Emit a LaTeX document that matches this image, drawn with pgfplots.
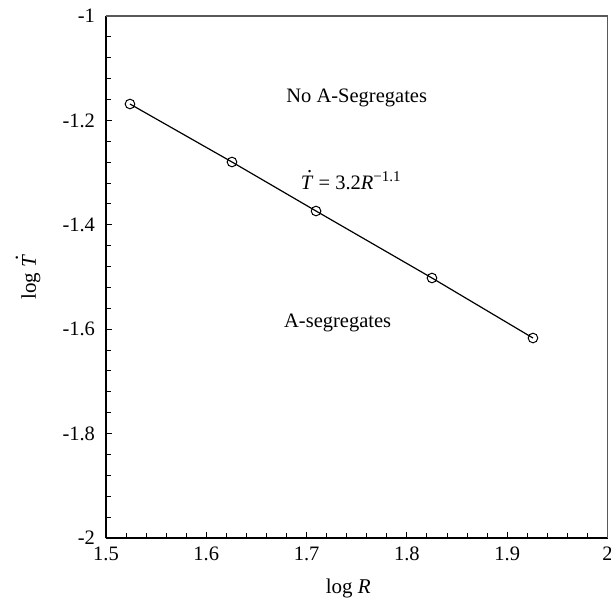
\documentclass[border=0pt]{standalone}
\usepackage{fontspec}
\setmainfont{Liberation Serif}
\usepackage{pgfplots}
\pgfplotsset{compat=1.18}
\newcommand\Tdot{\makebox[0pt][l]{\hspace{0.31em}\raisebox{0.86em}{.}}\textit{T}}
\begin{document}
\fontsize{20.5bp}{24bp}\selectfont
\begin{tikzpicture}
\begin{axis}[name=ax,
  scale only axis, width=501.5bp, height=522bp,
  xmin=1.5, xmax=2, ymin=-2, ymax=-1,
  xtick={1.5,1.6,1.7,1.8,1.9,2}, ytick={-2,-1.8,-1.6,-1.4,-1.2,-1},
  minor x tick num=4, minor y tick num=4,
  xticklabels={1.5,1.6,1.7,1.8,1.9,2},
  yticklabels={-2,-1.8,-1.6,-1.4,-1.2,-1},
  tick align=inside, xtick pos=bottom, ytick pos=left,
  major tick length=6bp, minor tick length=5bp,
  tick style={black, line width=1bp},
  axis x line*=bottom, axis y line*=left,
  axis line style={black, line width=2bp, -},
  ticklabel style={font=\fontsize{20.5bp}{24bp}\selectfont},
  xticklabel style={yshift=-2bp},
  yticklabel style={xshift=-4bp},
  xlabel={log \textit{R}},
  ylabel={log \Tdot},
  label style={font=\fontsize{21bp}{25bp}\selectfont},
  xlabel style={at={(axis description cs:0.483,0)}, anchor=center, yshift=-50bp},
  ylabel style={at={(axis description cs:0,0.5)}, anchor=center, yshift=78bp},
  clip=false,
]
\addplot[black, line width=1.2bp, mark=o, mark size=4.8bp, mark options={fill=white, line width=1bp}]
coordinates {(1.5239,-1.1686) (1.6256,-1.2797) (1.7094,-1.3736) (1.8250,-1.5019) (1.9257,-1.6169)};
\node at (axis cs:1.750,-1.157) {No A-Segregates};
\node at (axis cs:1.744,-1.314) {\Tdot{} = 3.2\textit{R}\raisebox{0.42em}{\fontsize{15bp}{18bp}\selectfont\char"2212 1.1}};
\node at (axis cs:1.731,-1.588) {A-segregates};
\end{axis}
\draw[black!65, line width=1.5bp] (ax.north west) -- (ax.north east) -- (ax.south east);
\pgfresetboundingbox
\path ([xshift=-106bp,yshift=-62bp]ax.south west) rectangle ([xshift=505bp,yshift=538bp]ax.south west);
\end{tikzpicture}
\end{document}
